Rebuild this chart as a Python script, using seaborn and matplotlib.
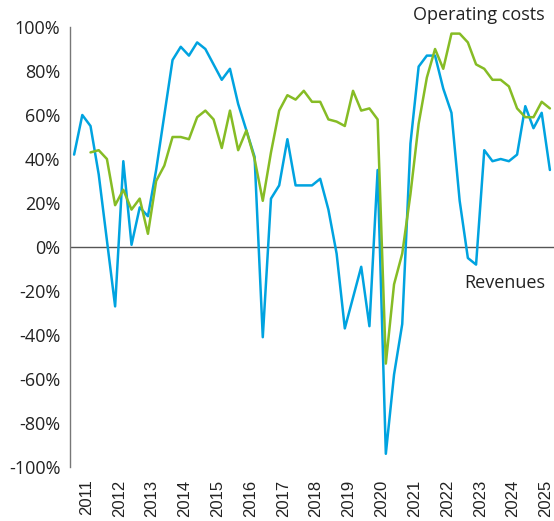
import numpy as np
import pandas as pd
import seaborn as sns
import matplotlib.pyplot as plt

# quarterly growth, 2011Q1 .. 2025Q3 (%)
years = list(range(2011, 2026))
revenues = [42, 60, 55, 33, 3, -27, 39, 1, 18, 14, 35, 60, 85, 91, 87, 93,
            90, 83, 76, 81, 65, 53, 41, -41, 22, 28, 49, 28, 28, 28, 31, 17,
            -3, -37, -23, -9, -36, 35, -94, -58, -35, 47, 82, 87, 87, 72, 61, 21,
            -5, -8, 44, 39, 40, 39, 42, 64, 54, 61, 35]
operating_costs = [np.nan, np.nan, 43, 44, 40, 19, 26, 17, 22, 6, 30, 37, 50, 50, 49, 59,
                   62, 58, 45, 62, 44, 53, 40, 21, 43, 62, 69, 67, 71, 66, 66, 58,
                   57, 55, 71, 62, 63, 58, -53, -17, -3, 24, 56, 77, 90, 81, 97, 97,
                   93, 83, 81, 76, 76, 73, 63, 59, 59, 66, 63]

blue = "#00A3E0"
green = "#86BC25"

df = pd.DataFrame({
    "q": np.arange(len(revenues)),
    "Revenues": revenues,
    "Operating costs": operating_costs,
})

sns.set_style("white")
plt.rcParams["font.family"] = ["Open Sans", "DejaVu Sans"]

fig = plt.figure(figsize=(5.54, 5.21), dpi=100)
ax = fig.add_axes([70 / 554, 1 - 467 / 521, 484 / 554, 440 / 521])

sns.lineplot(data=df, x="q", y="Revenues", color=blue, lw=1.8, ax=ax)
sns.lineplot(data=df, x="q", y="Operating costs", color=green, lw=1.8, ax=ax)

ax.axhline(0, color="#555555", lw=1.0, zorder=0)

ax.set_xlim(-0.5, len(revenues) - 0.5)
ax.set_ylim(-100, 100)
ax.set_yticks(range(-100, 101, 20))
ax.set_yticklabels([f"{v}%" for v in range(-100, 101, 20)], fontsize=13, color="#222222")
ax.set_xticks([1.5 + 4 * i for i in range(len(years))])
ax.set_xticklabels([str(y) for y in years], rotation=90, fontsize=12,
                   family="Liberation Sans", color="#222222")
ax.tick_params(axis="both", length=0)
ax.tick_params(axis="y", pad=7)
ax.tick_params(axis="x", pad=9)
ax.set_xlabel("")
ax.set_ylabel("")

for s in ["top", "right", "bottom"]:
    ax.spines[s].set_visible(False)
ax.spines["left"].set_color("#777777")
ax.spines["left"].set_linewidth(1.0)

ax.text(57.4, 105.5, "Operating costs", ha="right", va="center", fontsize=13,
        color="#222222", clip_on=False)
ax.text(57.4, -16.4, "Revenues", ha="right", va="center", fontsize=13, color="#222222")

fig.savefig("out.png", dpi=100)
